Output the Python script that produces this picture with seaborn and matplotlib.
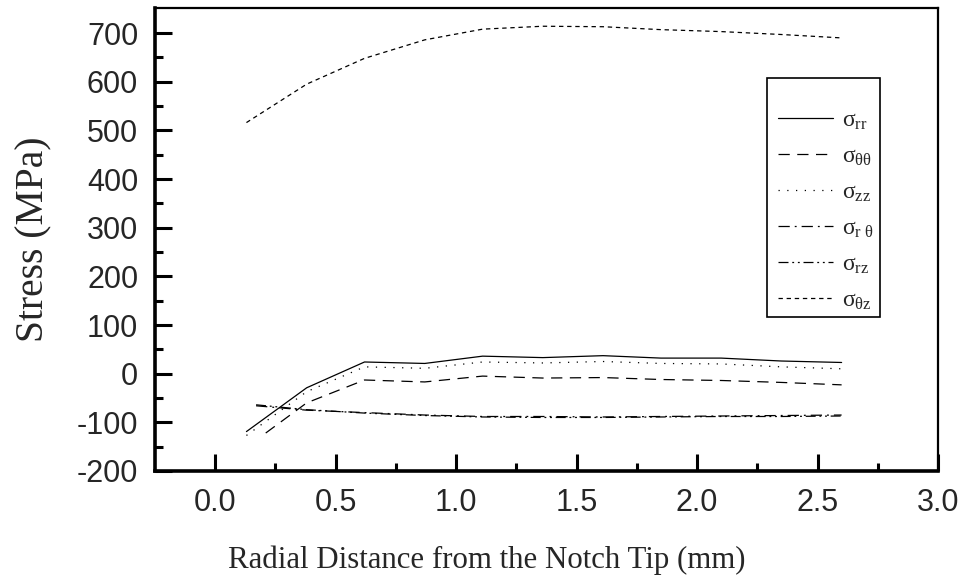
import numpy as np
import pandas as pd
import seaborn as sns
import matplotlib.pyplot as plt
from matplotlib.patches import Rectangle

# radial positions (mm)
r_main = [0.13, 0.38, 0.62, 0.87, 1.11, 1.36, 1.61, 1.85, 2.10, 2.35, 2.60]
r_tt = [0.21, 0.38, 0.62, 0.87, 1.11, 1.36, 1.61, 1.85, 2.10, 2.35, 2.60]
r_shear = [0.17, 0.38, 0.62, 0.87, 1.11, 1.36, 1.61, 1.85, 2.10, 2.35, 2.60]

s_rr = [-119, -29, 24, 21, 36, 33, 37, 32, 32, 26, 23]
s_tt = [-122, -60, -13, -17, -5, -9, -8, -12, -14, -18, -23]
s_zz = [-127, -37, 14, 11, 24, 22, 25, 21, 20, 14, 10]
s_rt = [-66, -75, -80, -85, -88, -88, -89, -88, -87, -86, -85]
s_rz = [-64, -74, -81, -86, -89, -90, -90, -89, -88, -88, -87]
s_tz = [516, 595, 648, 686, 708, 714, 713, 707, 703, 697, 690]

labels = [r"$\mathrm{\sigma}_{\mathrm{rr}}$", r"$\mathrm{\sigma}_{\mathrm{\theta\theta}}$",
          r"$\mathrm{\sigma}_{\mathrm{zz}}$", r"$\mathrm{\sigma}_{\mathrm{r\ \theta}}$",
          r"$\mathrm{\sigma}_{\mathrm{rz}}$", r"$\mathrm{\sigma}_{\mathrm{\theta z}}$"]

x_ticks = [0.0, 0.5, 1.0, 1.5, 2.0, 2.5, 3.0]
x_ticklabels = ["0.0", "0.5", "1.0", "1.5", "2.0", "2.5", "3.0"]
y_ticks = [-200, -100, 0, 100, 200, 300, 400, 500, 600, 700]
y_ticklabels = ["-200", "-100", "0", "100", "200", "300", "400", "500", "600", "700"]

sns.set_theme(style="ticks")
plt.rcParams['font.family'] = ['Liberation Sans', 'DejaVu Sans']
plt.rcParams['mathtext.fontset'] = 'custom'
plt.rcParams['mathtext.rm'] = 'Liberation Serif'
plt.rcParams['mathtext.it'] = 'Liberation Serif:italic'

series = [
    (r_main, s_rr, '-'),
    (r_tt, s_tt, (0, (9, 6))),
    (r_main, s_zz, (0, (1, 6))),
    (r_shear, s_rt, (0, (9, 4, 1.5, 4))),
    (r_shear, s_rz, (0, (8, 3, 1.5, 3, 1.5, 3))),
    (r_main, s_tz, (0, (3.5, 3))),
]

fig = plt.figure(figsize=(9.68, 5.88), dpi=100)
ax = fig.add_axes([0.160, 0.199, 0.809, 0.787])

handles = []
for (xs, ys, ls), lab in zip(series, labels):
    df = pd.DataFrame({"r": xs, "s": ys})
    sns.lineplot(data=df, x="r", y="s", ax=ax, color='black', linewidth=0.9,
                 linestyle=ls, estimator=None, sort=False)
    handles.append(ax.lines[-1])

ax.set_xlim(-0.25, 3.0)
ax.set_ylim(-200, 751)
ax.set_xticks(x_ticks)
ax.set_xticklabels(x_ticklabels)
ax.set_xticks([0.25, 0.75, 1.25, 1.75, 2.25, 2.75], minor=True)
ax.set_yticks(y_ticks)
ax.set_yticklabels(y_ticklabels)
ax.set_yticks([-150, -50, 50, 150, 250, 350, 450, 550, 650], minor=True)
ax.tick_params(which='major', direction='in', length=12, width=2.2,
               labelsize=22, pad=12, top=False, right=False, color='black')
ax.tick_params(which='minor', direction='in', length=6, width=2.2,
               top=False, right=False, color='black')
for side in ['left', 'bottom']:
    ax.spines[side].set_linewidth(2.6)
for side in ['top', 'right']:
    ax.spines[side].set_linewidth(1.6)
for sp in ax.spines.values():
    sp.set_color('black')

ax.set_xlabel("Radial Distance from the Notch Tip (mm)", family='Liberation Serif',
              fontsize=22.2)
ax.xaxis.set_label_coords(0.424, -0.16)
ax.set_ylabel("Stress (MPa)", family='Liberation Serif', fontsize=28.5)
ax.yaxis.set_label_coords(-0.131, 0.5)

leg = ax.legend(handles, labels, loc='upper left', bbox_to_anchor=(0.796, 0.78),
                frameon=False, prop={'family': 'Liberation Serif', 'size': 17},
                handlelength=2.3, handletextpad=0.4, labelspacing=0.6,
                borderpad=0.0, borderaxespad=0.0)
ax.add_patch(Rectangle((0.782, 0.333), 0.144, 0.516, transform=ax.transAxes,
                       fill=False, edgecolor='black', linewidth=1.2, zorder=5))

fig.savefig("out.png", dpi=100)
